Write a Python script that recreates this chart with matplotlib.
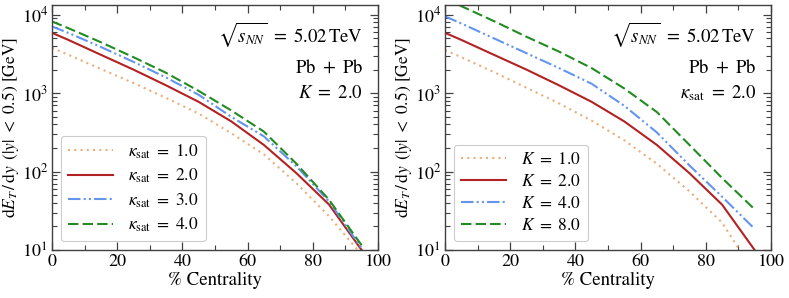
import matplotlib
matplotlib.use("Agg")
import matplotlib.pyplot as plt
from matplotlib.ticker import LogLocator, MultipleLocator, NullFormatter

plt.rcParams['font.family'] = ['STIXGeneral', 'DejaVu Serif']
plt.rcParams['mathtext.fontset'] = 'stix'

centrality = [0, 5, 15, 25, 35, 45, 55, 65, 75, 85, 95]

# Left panel: K = 2.0, varying kappa_sat
ksat_1 = [3800, 3090, 2040, 1350, 870, 550, 309, 166, 71, 27, 8.7]
ksat_2 = [5890, 4790, 3090, 2000, 1260, 776, 437, 219, 95.5, 38, 10]
ksat_3 = [7080, 5890, 3890, 2510, 1585, 955, 500, 282, 117, 41.7, 10.5]
ksat_4 = [8220, 6760, 4470, 2880, 1820, 1070, 603, 324, 126, 43.7, 11.5]
left_labels = [r'$\kappa_{\rm sat}\ =\ 1.0$', r'$\kappa_{\rm sat}\ =\ 2.0$',
               r'$\kappa_{\rm sat}\ =\ 3.0$', r'$\kappa_{\rm sat}\ =\ 4.0$']

# Right panel: kappa_sat = 2.0, varying K
K_1 = [3550, 2880, 1860, 1175, 741, 447, 251, 126, 56, 22.4, 5.0]
K_2 = [5890, 4790, 3090, 2000, 1260, 776, 437, 219, 95.5, 38, 10]
K_4 = [9550, 7760, 5010, 3240, 2090, 1320, 692, 316, 120, 47.9, 18.6]
K_8 = [16200, 12900, 8320, 5250, 3390, 2090, 1150, 575, 219, 83, 33]
right_labels = [r'$K\ =\ 1.0$', r'$K\ =\ 2.0$', r'$K\ =\ 4.0$', r'$K\ =\ 8.0$']

colors = ['#EBAE7A', '#B22222', '#6495ED', '#228B22']
styles = [(0, (1, 2)), '-', (0, (6, 1.5, 1, 1.5, 1, 1.5)), (0, (5, 2))]

fig = plt.figure(figsize=(7.89, 2.98), dpi=100)
ax1 = fig.add_axes([0.0659, 0.161, 0.4131, 0.821])
ax2 = fig.add_axes([0.564, 0.161, 0.4131, 0.821])

spine_c = '#404040'

def setup(ax, series, labels, tag):
    for y, lab, c, ls in zip(series, labels, colors, styles):
        ax.plot(centrality, y, color=c, linestyle=ls, lw=1.5, label=lab)
    ax.set_yscale('log')
    ax.set_xlim(0, 100)
    ax.set_ylim(10, 1.32e4)
    ax.xaxis.set_major_locator(MultipleLocator(20))
    ax.xaxis.set_minor_locator(MultipleLocator(10))
    ax.yaxis.set_major_locator(LogLocator(base=10, numticks=10))
    ax.yaxis.set_minor_locator(LogLocator(base=10, subs=range(2, 10), numticks=20))
    ax.yaxis.set_minor_formatter(NullFormatter())
    ax.tick_params(which='both', direction='in', top=True, right=True,
                   labelsize=13, color=spine_c, pad=3)
    ax.tick_params(which='major', length=6, width=0.9)
    ax.tick_params(which='minor', length=3.5, width=0.8)
    for s in ax.spines.values():
        s.set_color(spine_c)
        s.set_linewidth(1.0)
    ax.set_xlabel('% Centrality', fontsize=13.5, labelpad=1)
    ax.set_ylabel(r'$\mathrm{d}E_T\,/\,\mathrm{d}y\ \,(|y|\ <\ 0.5)$ [GeV]', fontsize=12.5)
    ax.yaxis.set_label_coords(-0.094, 0.5)
    ax.text(0.955, 0.879, r'$\sqrt{s_{NN}}\ =\ 5.02\,$TeV', transform=ax.transAxes,
            ha='right', va='center', fontsize=13.5)
    ax.text(0.955, 0.744, r'Pb$\ +\ $Pb', transform=ax.transAxes,
            ha='right', va='center', fontsize=13.5)
    ax.text(0.955, 0.642, tag, transform=ax.transAxes,
            ha='right', va='center', fontsize=13.5)
    leg = ax.legend(loc='lower left', fontsize=12.5, frameon=True, fancybox=True,
                    edgecolor='#cccccc', framealpha=1.0, handlelength=2.6,
                    borderaxespad=0.5, labelspacing=0.35, handletextpad=0.9)
    leg.get_frame().set_linewidth(0.8)

setup(ax1, [ksat_1, ksat_2, ksat_3, ksat_4], left_labels, r'$K\ =\ 2.0$')
setup(ax2, [K_1, K_2, K_4, K_8], right_labels, r'$\kappa_{\rm sat}\ =\ 2.0$')

fig.savefig('out.png', dpi=100)
